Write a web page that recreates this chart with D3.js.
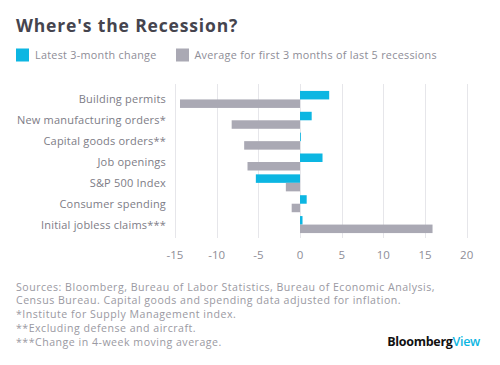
<!DOCTYPE html>
<html>
  <body>
    <script src="https://cdn.jsdelivr.net/npm/d3@7"></script>
    <style>
      body{ margin: 0; background: #fff; font-family: "Open Sans", sans-serif;}
      svg{ display: block;}
      .grid line{ stroke: #e6e6ea; stroke-width: 1;}
      .cat{ fill: #7d7c86; font-size: 11px; letter-spacing: 0.2px;}
      .tick-label{ fill: #8e8d97; font-size: 11.5px;}
      .note{ fill: #9a99a2; font-size: 10.6px; letter-spacing: 0.5px;}
      .leg{ fill: #8e8d97; font-size: 10.8px; letter-spacing: 0.28px;}
    </style>
    <script>
var categories = ['Building permits', 'New manufacturing orders*', 'Capital goods orders**'
  , 'Job openings', 'S&P 500 Index', 'Consumer spending', 'Initial jobless claims***']
  , latest = [3.5, 1.4, 0.1, 2.7, -5.3, 0.8, 0.3]
  , recessions = [-14.4, -8.2, -6.7, -6.3, -1.7, -1.0, 15.9]
  , ticks = [-15, -10, -5, 0, 5, 10, 15, 20]
  , seriesNames = ['Latest 3-month change', 'Average for first 3 months of last 5 recessions']
  , notes = ['Sources: Bloomberg, Bureau of Labor Statistics, Bureau of Economic Analysis,'
    , 'Census Bureau. Capital goods and spending data adjusted for inflation.'
    , '*Institute for Supply Management index.'
    , '**Excluding defense and aircraft.'
    , '***Change in 4-week moving average.']

var blue = '#0cb6e2', gray = '#aaa9b4'
  , svg = d3.select('body').append('svg').attr('width', 500).attr('height', 365)

var x = d3.scaleLinear().domain([-15, 20]).range([175, 466.7])
var y = d3.scaleBand().domain(categories).range([89, 235])
var half = 8.5

// title + legend
svg.append('text').text("Where's the Recession?")
  .attr('x', 16).attr('y', 32)
  .style('font-size', '17.5px').style('font-weight', 'bold').style('fill', '#45444e')
  .style('letter-spacing', '0.85px')

var legend = svg.append('g')
legend.append('rect').attr('x', 16).attr('y', 48.5).attr('width', 13).attr('height', 13).attr('fill', blue)
legend.append('text').attr('class', 'leg').text(seriesNames[0]).attr('x', 35).attr('y', 58.5)
legend.append('rect').attr('x', 176).attr('y', 48.5).attr('width', 13).attr('height', 13).attr('fill', gray)
legend.append('text').attr('class', 'leg').text(seriesNames[1]).attr('x', 194.5).attr('y', 58.5)

// grid
svg.append('g').attr('class', 'grid').selectAll('line').data(ticks)
  .enter().append('line')
  .attr('x1', function(d){ return Math.round(x(d)) + 0.5 })
  .attr('x2', function(d){ return Math.round(x(d)) + 0.5 })
  .attr('y1', 84).attr('y2', 238)

svg.append('g').selectAll('text').data(ticks)
  .enter().append('text').attr('class', 'tick-label')
  .attr('x', function(d){ return x(d) }).attr('y', 259)
  .attr('text-anchor', 'middle')
  .text(function(d){ return d })

// bars
function mid(d){ return y(d) + y.bandwidth() / 2 }
svg.append('g').selectAll('rect').data(categories)
  .enter().append('rect')
  .attr('x', function(d, i){ return x(Math.min(0, latest[i])) })
  .attr('width', function(d, i){ return Math.abs(x(latest[i]) - x(0)) })
  .attr('y', function(d){ return mid(d) - half })
  .attr('height', half)
  .attr('fill', blue)
svg.append('g').selectAll('rect').data(categories)
  .enter().append('rect')
  .attr('x', function(d, i){ return x(Math.min(0, recessions[i])) })
  .attr('width', function(d, i){ return Math.abs(x(recessions[i]) - x(0)) })
  .attr('y', function(d){ return mid(d) })
  .attr('height', half)
  .attr('fill', gray)

svg.append('g').selectAll('text').data(categories)
  .enter().append('text').attr('class', 'cat')
  .attr('x', 166).attr('y', function(d){ return mid(d) + 4 })
  .attr('text-anchor', 'end')
  .text(function(d){ return d })

// footnotes
svg.append('g').selectAll('text').data(notes)
  .enter().append('text').attr('class', 'note')
  .attr('x', 16).attr('y', function(d, i){ return 290.5 + i * 13.8 })
  .text(function(d){ return d })

var logo = svg.append('text').attr('x', 480).attr('y', 346).attr('text-anchor', 'end')
  .style('font-size', '12.5px').style('font-weight', 'bold').style('letter-spacing', '-0.3px')
logo.append('tspan').text('Bloomberg').style('fill', '#111')
logo.append('tspan').text('View').style('fill', blue).style('font-weight', '600')
    </script>
  </body>
</html>
